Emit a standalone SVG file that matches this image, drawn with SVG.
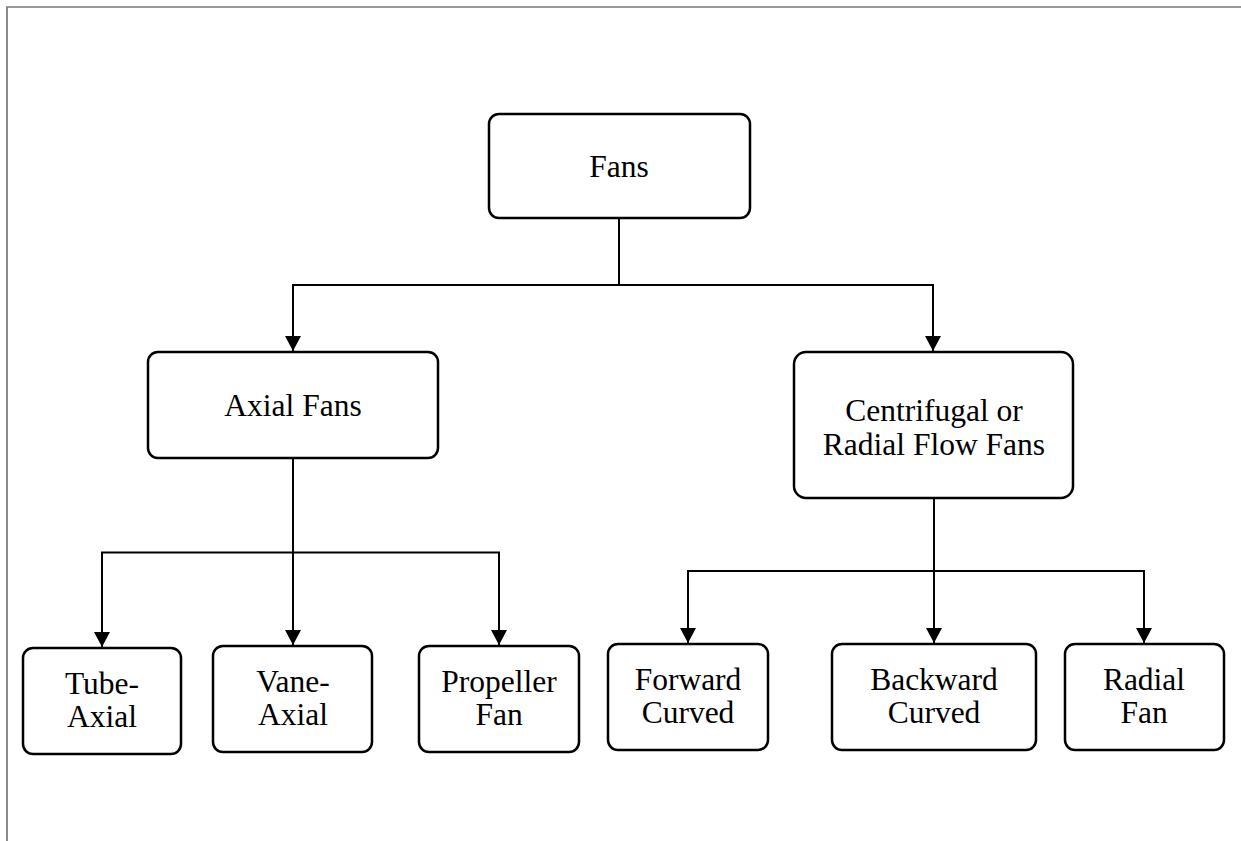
<svg xmlns="http://www.w3.org/2000/svg" width="1241" height="841" viewBox="0 0 1241 841" font-family="'Liberation Serif', 'Times New Roman', serif">
<defs>
<marker id="arr" markerUnits="userSpaceOnUse" markerWidth="17" markerHeight="17" refX="15" refY="8" orient="auto" viewBox="0 0 17 17">
<path d="M0,0 L15,8 L0,16 z" fill="#000"/>
</marker>
<style>
.box{fill:#fff;stroke:#000;stroke-width:2.5}
.t{font-size:31.5px;fill:#000;text-anchor:middle}
.c{fill:none;stroke:#000;stroke-width:2}
.frame{fill:none;stroke:#777;stroke-width:1.7}
</style>
</defs>
<rect width="1241" height="841" fill="#fff"/>
<path class="frame" d="M7,841 V7 H1241"/>
<g id="connectors">
<path class="c" d="M619,218 V285"/>
<path class="c" d="M619,285 H293 V351" marker-end="url(#arr)"/>
<path class="c" d="M619,285 H933 V351" marker-end="url(#arr)"/>
<path class="c" d="M293,458 V552.5"/>
<path class="c" d="M293,552.5 H102 V647" marker-end="url(#arr)"/>
<path class="c" d="M293,552.5 V645" marker-end="url(#arr)"/>
<path class="c" d="M293,552.5 H499 V645" marker-end="url(#arr)"/>
<path class="c" d="M934,498 V571"/>
<path class="c" d="M934,571 H688 V643" marker-end="url(#arr)"/>
<path class="c" d="M934,571 V643" marker-end="url(#arr)" stroke-width="1.5"/>
<path class="c" d="M934,571 H1144 V643" marker-end="url(#arr)"/>
</g>
<g id="fans"><rect class="box" x="489" y="114" width="261" height="104" rx="10"/><text class="t" x="619" y="177">Fans</text></g>
<g id="axial"><rect class="box" x="148" y="352" width="290" height="106" rx="10"/><text class="t" x="293" y="416">Axial Fans</text></g>
<g id="centrifugal"><rect class="box" x="794" y="352" width="279" height="146" rx="12"/><text class="t" x="934" y="421">Centrifugal or</text><text class="t" x="934" y="455">Radial Flow Fans</text></g>
<g id="tube"><rect class="box" x="23" y="648" width="158" height="106" rx="10"/><text class="t" x="102" y="694">Tube-</text><text class="t" x="102" y="727">Axial</text></g>
<g id="vane"><rect class="box" x="213" y="646" width="159" height="106" rx="10"/><text class="t" x="293" y="692">Vane-</text><text class="t" x="293" y="725">Axial</text></g>
<g id="propeller"><rect class="box" x="419" y="646" width="160" height="106" rx="10"/><text class="t" x="499" y="692">Propeller</text><text class="t" x="499" y="725">Fan</text></g>
<g id="forward"><rect class="box" x="608" y="644" width="160" height="106" rx="10"/><text class="t" x="688" y="690">Forward</text><text class="t" x="688" y="723">Curved</text></g>
<g id="backward"><rect class="box" x="832" y="644" width="204" height="106" rx="10"/><text class="t" x="934" y="690">Backward</text><text class="t" x="934" y="723">Curved</text></g>
<g id="radial"><rect class="box" x="1065" y="644" width="159" height="106" rx="10"/><text class="t" x="1144" y="690">Radial</text><text class="t" x="1144" y="723">Fan</text></g>
</svg>
